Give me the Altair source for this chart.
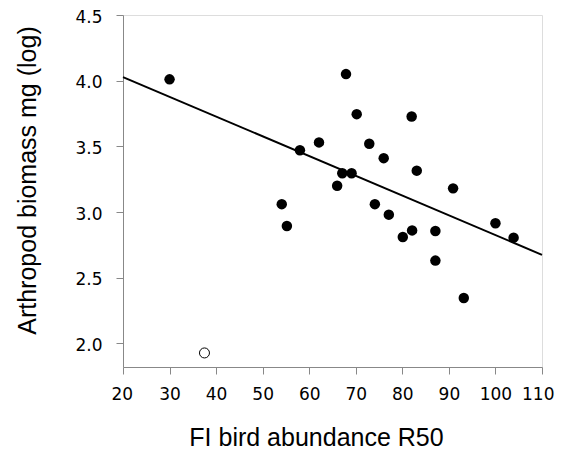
import altair as alt
import pandas as pd

# Filled points (FI bird abundance R50, log arthropod biomass)
x_filled = [30.0, 67.9, 70.2, 82.0, 62.1, 58.0, 72.9, 76.0, 83.1, 67.1, 69.1, 66.0, 90.9,
            54.1, 55.2, 74.1, 77.1, 80.1, 82.1, 87.1, 87.1, 100.0, 103.9, 93.2]
y_filled = [4.01, 4.05, 3.745, 3.727, 3.53, 3.47, 3.52, 3.41, 3.315, 3.295, 3.295, 3.20, 3.18,
            3.06, 2.894, 3.06, 2.98, 2.81, 2.86, 2.856, 2.63, 2.914, 2.805, 2.345]
# Open (excluded) point
x_open = [37.5]
y_open = [1.927]
# Fitted regression line end points
line_x = [20, 110]
line_y = [4.027, 2.674]

x_ticks = [20, 30, 40, 50, 60, 70, 80, 90, 100, 110]
y_ticks = [2.0, 2.25, 2.5, 2.75, 3.0, 3.25, 3.5, 3.75, 4.0, 4.25, 4.5]

filled = pd.DataFrame({"x": x_filled, "y": y_filled})
opened = pd.DataFrame({"x": x_open, "y": y_open})
line = pd.DataFrame({"x": line_x, "y": line_y})

TITLE_FONT = "Liberation Sans"
LABEL_FONT = "DejaVu Sans"
is_major = "abs(datum.value*2 - round(datum.value*2)) < 0.01"

xs = alt.Scale(domain=[20, 110], nice=False, zero=False)
ys = alt.Scale(domain=[1.82, 4.5], nice=False, zero=False)

x_axis = alt.Axis(values=x_ticks, grid=False, tickSize=7, labelPadding=12, labelFontSize=17,
                  labelOverlap=False, labelFlush=True, labelFlushOffset=12, labelFont=LABEL_FONT,
                  titleFontSize=25, titleFontWeight="normal", title="FI bird abundance R50",
                  titleX=193, titleY=78, titleBaseline="alphabetic", titleAlign="center")
y_axis = alt.Axis(values=y_ticks, grid=False,
                  tickSize={"condition": {"test": is_major, "value": 7}, "value": 4},
                  labelExpr=f"({is_major}) ? format(datum.value, '.1f') : ''",
                  labelOverlap=False, labelFlush=False, labelFont=LABEL_FONT, labelOffset=2,
                  labelPadding=14, labelFontSize=17, titleFontSize=25, titleFontWeight="normal",
                  title="Arthropod biomass mg (log)", titleX=-96, titleY=165,
                  titleBaseline="middle", titleAlign="center", titleAngle=270)

line_layer = alt.Chart(line).mark_line(color="black", strokeWidth=2).encode(
    x=alt.X("x:Q", scale=xs, axis=x_axis),
    y=alt.Y("y:Q", scale=ys, axis=y_axis),
)
filled_layer = alt.Chart(filled).mark_point(filled=True, shape="circle", size=110,
                                             color="black", opacity=1).encode(
    x=alt.X("x:Q", scale=xs), y=alt.Y("y:Q", scale=ys))
open_layer = alt.Chart(opened).mark_point(filled=False, shape="circle", size=100,
                                           color="black", strokeWidth=1, opacity=1).encode(
    x=alt.X("x:Q", scale=xs), y=alt.Y("y:Q", scale=ys))

chart = alt.layer(line_layer, filled_layer, open_layer).properties(
    width=419, height=352,
    autosize=alt.AutoSizeParams(type="none"),
    padding={"left": 115, "top": 7, "right": 13, "bottom": 85},
).configure_view(stroke="#222", strokeWidth=1.2).configure_axis(
    domainColor="#222", tickColor="#222", labelColor="#222", titleColor="#222",
    titleFont=TITLE_FONT, domainWidth=1.2, tickWidth=1.2,
).configure(background="white")

chart.save("out.html", embed_options={"renderer": "svg", "actions": False})
